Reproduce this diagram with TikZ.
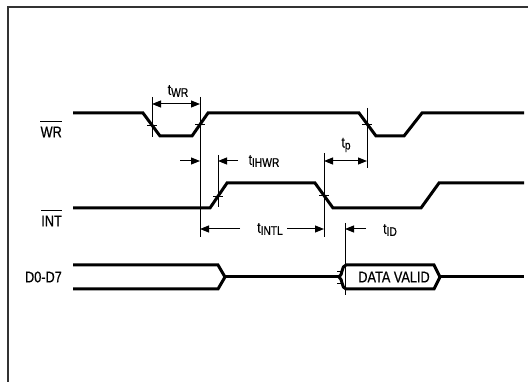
\documentclass[tikz,border=0pt]{standalone}
\usepackage{fontspec}
\setmainfont{Liberation Sans}
\newfontfamily\cond[FakeStretch=0.82,FakeBold=0.6]{Liberation Sans}
\usetikzlibrary{arrows.meta}
\newcommand{\tlab}[1]{{\fontsize{15}{15}\selectfont t}{\fontsize{12.5}{12.5}\selectfont\raisebox{-2pt}{#1}}}
\begin{document}
\begin{tikzpicture}[x=1pt,y=-1pt,
  sig/.style={line width=3pt, line join=miter},
  dim/.style={line width=1pt},
  arr/.style={dim, -{Triangle[length=9pt,width=7pt]}},
  darr/.style={dim, {Triangle[length=9pt,width=7pt]}-{Triangle[length=9pt,width=7pt]}},
  tickmark/.style={line width=0.9pt},
  lbl/.style={font=\cond\fontsize{15.5}{15.5}\selectfont, inner sep=0pt},
  tlbl/.style={font=\cond, inner sep=0pt}]
\useasboundingbox (0,0) rectangle (528,382);
% frame
\draw[line width=1.2pt, black!80] (528,7) -- (8,7) -- (8,382);
% signal labels
\node[lbl, anchor=east] (wrlbl) at (62,132) {WR};
\draw[line width=1.6pt] ([yshift=5pt]wrlbl.north west) -- ([yshift=5pt]wrlbl.north east);
\node[lbl, anchor=east] (intlbl) at (62,221) {INT};
\draw[line width=1.6pt] ([yshift=5pt]intlbl.north west) -- ([yshift=5pt]intlbl.north east);
\node[lbl, anchor=east] (dlbl) at (62,277) {D0-D7};
% WR waveform
\draw[sig] (73,113) -- (143,113) -- (160,136) -- (192,136) -- (208,113) -- (359,113) -- (376,136) -- (404,136) -- (422,113) -- (524,113);
% INT waveform
\draw[sig] (73,208) -- (210,208) -- (227,183) -- (315,183) -- (333,208) -- (421,208) -- (439,183) -- (524,183);
% data bus
\draw[sig] (73,265) -- (218,265) -- (225,277) -- (218,289) -- (73,289);
\draw[sig] (225,277) -- (339,277);
\draw[sig] (346,265) -- (434,265) -- (440,277) -- (434,289) -- (346,289)
  .. controls (341,288) and (343,279) .. (339,277)
  .. controls (343,275) and (341,266) .. cycle;
\draw[sig] (440,277) -- (524,277);
\node[font=\cond\fontsize{15.5}{15.5}\selectfont, inner sep=0pt] (dv) at (394,277) {DATA VALID};
% crossing ticks
\draw[tickmark] (147,125) -- (157,125);
\draw[tickmark] (195,124.5) -- (205,124.5);
\draw[tickmark] (362,124) -- (372,124);
\draw[tickmark] (213,196) -- (223,196);
\draw[tickmark] (319,195.5) -- (329,195.5);
\draw[tickmark] (337,271) -- (342,271);
\draw[tickmark] (337,283) -- (342,283);
% reference lines
\draw[dim] (152,97) -- (152,137);
\draw[dim] (200,97) -- (200,237);
\draw[dim] (218,155) -- (218,207);
\draw[dim] (324,153) -- (324,237);
\draw[dim] (367,108) -- (367,168);
\draw[dim] (345,223) -- (345,295);
% dimension arrows
\draw[darr] (152,104) -- (200,104);
\draw[arr] (180,161) -- (200,161);
\draw[arr] (238,161) -- (218,161);
\draw[arr] (240,229) -- (200,229);
\draw[arr] (287,229) -- (324,229);
\draw[darr] (324,161) -- (367,161);
\draw[arr] (366,229) -- (345,229);
% timing labels
\node[tlbl] (twr) at (178,91) {\tlab{WR}};
\node[tlbl] (tihwr) at (264,161) {\tlab{IHWR}};
\node[tlbl] (tintl) at (270,229) {\tlab{INTL}};
\node[tlbl] (tp) at (346,145) {\tlab{p}};
\node[tlbl] (tid) at (390,230) {\tlab{ID}};
\end{tikzpicture}
\end{document}
